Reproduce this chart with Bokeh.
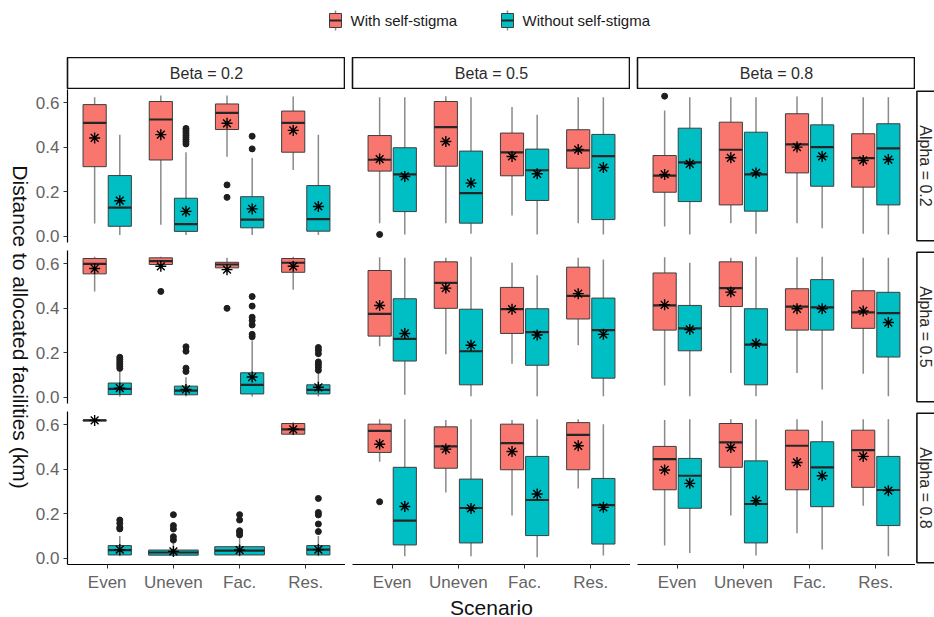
import math
from bokeh.plotting import figure
from bokeh.layouts import column, row
from bokeh.models import Range1d, FixedTicker, NumeralTickFormatter, Spacer
from bokeh.embed import file_html
from bokeh.resources import INLINE
from bokeh.core.properties import value

scenarios = ["Even", "Uneven", "Fac.", "Res."]
beta_levels = ["0.2", "0.5", "0.8"]
alpha_levels = ["0.2", "0.5", "0.8"]
group_names = ["With self-stigma", "Without self-stigma"]
group_colors = ["#F8766D", "#00BFC4"]
y_title = "Distance to allocated facilities (km)"
x_title = "Scenario"

# Box statistics: one row per facet (alpha rows, beta columns, row-major),
# one value per scenario. None = no observations for that group.
with_low = [
    [0.058, 0.052, 0.358, 0.298],
    [0.059, 0.059, 0.093, 0.059],
    [0.044, 0.059, 0.059, 0.011],
    [0.476, 0.585, 0.560, 0.484],
    [0.230, 0.193, 0.151, 0.234],
    [0.053, 0.109, 0.109, 0.106],
    [0.620, None, None, 0.555],
    [0.434, 0.296, 0.192, 0.314],
    [0.057, 0.192, 0.112, 0.236],
]
with_q1 = [
    [0.313, 0.343, 0.480, 0.378],
    [0.293, 0.315, 0.272, 0.306],
    [0.198, 0.141, 0.285, 0.221],
    [0.555, 0.597, 0.582, 0.562],
    [0.275, 0.400, 0.287, 0.352],
    [0.302, 0.408, 0.302, 0.310],
    [0.618, None, None, 0.558],
    [0.476, 0.405, 0.398, 0.398],
    [0.308, 0.409, 0.308, 0.319],
]
with_med = [
    [0.510, 0.525, 0.555, 0.510],
    [0.344, 0.491, 0.377, 0.386],
    [0.273, 0.389, 0.413, 0.351],
    [0.600, 0.612, 0.597, 0.605],
    [0.375, 0.514, 0.396, 0.456],
    [0.413, 0.491, 0.408, 0.382],
    [0.620, None, None, 0.580],
    [0.573, 0.503, 0.518, 0.555],
    [0.446, 0.521, 0.506, 0.486],
]
with_q3 = [
    [0.592, 0.606, 0.595, 0.563],
    [0.453, 0.606, 0.464, 0.479],
    [0.363, 0.513, 0.551, 0.461],
    [0.624, 0.627, 0.607, 0.624],
    [0.570, 0.609, 0.494, 0.585],
    [0.559, 0.609, 0.488, 0.479],
    [0.622, None, None, 0.606],
    [0.603, 0.591, 0.603, 0.610],
    [0.503, 0.606, 0.576, 0.576],
]
with_high = [
    [0.625, 0.633, 0.633, 0.628],
    [0.625, 0.630, 0.581, 0.625],
    [0.566, 0.625, 0.628, 0.625],
    [0.632, 0.632, 0.627, 0.632],
    [0.630, 0.627, 0.605, 0.627],
    [0.630, 0.627, 0.630, 0.627],
    [0.620, None, None, 0.612],
    [0.625, 0.622, 0.622, 0.625],
    [0.622, 0.625, 0.625, 0.625],
]
with_mean = [
    [0.442, 0.457, 0.508, 0.476],
    [0.347, 0.426, 0.359, 0.390],
    [0.278, 0.353, 0.401, 0.341],
    [0.579, 0.589, 0.574, 0.589],
    [0.413, 0.491, 0.396, 0.466],
    [0.416, 0.473, 0.398, 0.388],
    [0.620, None, None, 0.580],
    [0.513, 0.491, 0.480, 0.506],
    [0.397, 0.498, 0.431, 0.458],
]

without_low = [
    [0.006, 0.006, 0.006, 0.006],
    [0.008, 0.011, 0.008, 0.008],
    [0.008, 0.011, 0.036, 0.008],
    [0.003, 0.003, 0.003, 0.003],
    [0.011, 0.005, 0.005, 0.005],
    [0.005, 0.005, 0.035, 0.005],
    [0.009, 0.010, 0.009, 0.009],
    [0.009, 0.009, 0.005, 0.012],
    [0.024, 0.012, 0.039, 0.009],
]
without_q1 = [
    [0.045, 0.022, 0.038, 0.023],
    [0.111, 0.059, 0.161, 0.075],
    [0.156, 0.113, 0.225, 0.141],
    [0.012, 0.011, 0.015, 0.015],
    [0.163, 0.056, 0.144, 0.086],
    [0.209, 0.056, 0.302, 0.181],
    [0.015, 0.014, 0.015, 0.015],
    [0.060, 0.069, 0.102, 0.064],
    [0.225, 0.069, 0.232, 0.147],
]
without_med = [
    [0.129, 0.055, 0.075, 0.077],
    [0.278, 0.194, 0.297, 0.360],
    [0.332, 0.278, 0.401, 0.395],
    [0.038, 0.030, 0.056, 0.033],
    [0.263, 0.207, 0.293, 0.302],
    [0.310, 0.237, 0.404, 0.378],
    [0.037, 0.026, 0.034, 0.039],
    [0.169, 0.226, 0.262, 0.239],
    [0.371, 0.244, 0.409, 0.307],
]
without_q3 = [
    [0.273, 0.171, 0.178, 0.228],
    [0.398, 0.383, 0.392, 0.458],
    [0.486, 0.468, 0.501, 0.506],
    [0.064, 0.050, 0.110, 0.056],
    [0.443, 0.396, 0.398, 0.446],
    [0.413, 0.398, 0.529, 0.472],
    [0.057, 0.037, 0.052, 0.057],
    [0.409, 0.356, 0.458, 0.359],
    [0.449, 0.438, 0.524, 0.458],
]
without_high = [
    [0.456, 0.378, 0.352, 0.456],
    [0.625, 0.625, 0.546, 0.625],
    [0.625, 0.625, 0.625, 0.625],
    [0.118, 0.090, 0.255, 0.110],
    [0.627, 0.632, 0.549, 0.620],
    [0.605, 0.632, 0.632, 0.627],
    [0.100, 0.070, 0.090, 0.100],
    [0.625, 0.625, 0.625, 0.603],
    [0.625, 0.625, 0.618, 0.625],
]
without_mean = [
    [0.160, 0.112, 0.123, 0.134],
    [0.269, 0.239, 0.281, 0.309],
    [0.326, 0.285, 0.359, 0.345],
    [0.041, 0.035, 0.091, 0.045],
    [0.287, 0.234, 0.280, 0.283],
    [0.305, 0.242, 0.398, 0.336],
    [0.039, 0.031, 0.037, 0.039],
    [0.233, 0.224, 0.289, 0.229],
    [0.337, 0.259, 0.371, 0.304],
]

# Outlying observations: (facet index, scenario index, values)
with_outliers = [
    (0, 2, [0.231, 0.175]),
    (1, 0, [0.008]),
    (2, 0, [0.630]),
    (3, 1, [0.476]),
    (3, 2, [0.400]),
    (7, 0, [0.254]),
]
without_outliers = [
    (0, 1, [0.415, 0.425, 0.435, 0.445, 0.455, 0.465, 0.475, 0.485]),
    (0, 2, [0.393, 0.450]),
    (3, 0, [0.130, 0.140, 0.150, 0.160, 0.170, 0.180]),
    (3, 1, [0.116, 0.131, 0.207, 0.227]),
    (3, 2, [0.272, 0.283, 0.325, 0.345, 0.360, 0.410, 0.453]),
    (3, 3, [0.121, 0.136, 0.148, 0.159, 0.196, 0.212, 0.224]),
    (6, 0, [0.132, 0.139, 0.157, 0.172]),
    (6, 1, [0.082, 0.097, 0.132, 0.147, 0.196]),
    (6, 2, [0.105, 0.117, 0.124, 0.172, 0.196]),
    (6, 3, [0.120, 0.154, 0.195, 0.206, 0.269]),
]

group_stats = [
    (with_low, with_q1, with_med, with_q3, with_high, with_mean, with_outliers),
    (without_low, without_q1, without_med, without_q3, without_high, without_mean, without_outliers),
]

FONT = "Liberation Sans"
FRAME_W, FRAME_H = 278, 153
COL_GAP, ROW_GAP = 7, 8
TITLE_W = 32
LEFT_MARGIN, BOTTOM_MARGIN = 67 - TITLE_W, 53
STRIP_W, STRIP_H, LEGEND_H = 19, 32, 57
TOTAL_W = 934
BODY_H = STRIP_H + 3 * FRAME_H + 2 * ROW_GAP + BOTTOM_MARGIN

DODGE = 0.19
BOX_W = 0.35
FULL_W = 0.75
WHISKER = "#8a8a8a"
OUTLINE = "#3d3d3d"


def left_border(j):
    return LEFT_MARGIN if j == 0 else COL_GAP


def bottom_border(i):
    return BOTTOM_MARGIN if i == 2 else ROW_GAP


def bare(p):
    p.outline_line_color = None
    p.grid.grid_line_color = None
    p.background_fill_color = "white"
    p.border_fill_color = "white"
    p.min_border_top = 0
    p.min_border_right = 0


def style_axis(ax):
    ax.axis_line_color = "black"
    ax.axis_line_width = 1.2
    ax.major_tick_line_color = "#333333"
    ax.major_tick_line_width = 1
    ax.major_tick_out = 4
    ax.major_tick_in = 0
    ax.minor_tick_line_color = None
    ax.major_label_text_font = FONT
    ax.major_label_text_font_size = "17px"
    ax.major_label_text_color = "#646464"
    ax.major_label_standoff = 4
    ax.axis_label_text_font = FONT
    ax.axis_label_text_font_size = "21px"
    ax.axis_label_text_font_style = "normal"
    ax.axis_label_text_color = "#111111"
    ax.axis_label_standoff = 1


def make_panel(i, j):
    k = i * 3 + j
    p = figure(frame_width=FRAME_W, frame_height=FRAME_H,
               x_range=Range1d(0.4, 4.6), y_range=Range1d(-0.028, 0.66),
               output_backend="svg", toolbar_location=None, title=None,
               x_axis_location="below" if i == 2 else None,
               y_axis_location="left" if j == 0 else None)
    bare(p)
    p.min_border_left = left_border(j)
    p.min_border_bottom = bottom_border(i)

    for g, (lo, q1, md, q3, hi, mn, outl) in enumerate(group_stats):
        other = group_stats[1 - g]
        xs, ws, lows, q1s, meds, q3s, highs, means = [], [], [], [], [], [], [], []
        for s in range(len(scenarios)):
            if lo[k][s] is None:
                continue
            if other[0][k][s] is None:
                x, w = s + 1, FULL_W
            else:
                x, w = s + 1 + (DODGE if g == 1 else -DODGE), BOX_W
            xs.append(x); ws.append(w)
            lows.append(lo[k][s]); q1s.append(q1[k][s]); meds.append(md[k][s])
            q3s.append(q3[k][s]); highs.append(hi[k][s]); means.append(mn[k][s])

        p.segment(x0=xs, y0=lows, x1=xs, y1=highs, line_color=WHISKER, line_width=1.5)
        p.vbar(x=xs, width=ws, bottom=q1s, top=q3s, fill_color=group_colors[g],
               line_color=OUTLINE, line_width=1)
        p.segment(x0=[x - w / 2 for x, w in zip(xs, ws)], y0=meds,
                  x1=[x + w / 2 for x, w in zip(xs, ws)], y1=meds,
                  line_color="#262626", line_width=2.2)
        p.scatter(x=xs, y=means, marker="asterisk", size=11,
                  line_color="black", line_width=1.4)

        ox, oy = [], []
        for (fk, s, vals) in outl:
            if fk != k:
                continue
            if other[0][k][s] is None:
                x = s + 1
            else:
                x = s + 1 + (DODGE if g == 1 else -DODGE)
            ox.extend([x] * len(vals)); oy.extend(vals)
        if ox:
            p.scatter(x=ox, y=oy, marker="circle", size=6,
                      fill_color="#1e1e1e", line_color="#1e1e1e")

    if i == 2:
        ax = p.xaxis[0]
        style_axis(ax)
        ax.ticker = FixedTicker(ticks=list(range(1, len(scenarios) + 1)))
        ax.major_label_overrides = {s + 1: name for s, name in enumerate(scenarios)}
        if j == 1:
            ax.axis_label = x_title
    if j == 0:
        ay = p.yaxis[0]
        style_axis(ay)
        ay.ticker = FixedTicker(ticks=[0.0, 0.2, 0.4, 0.6])
        ay.formatter = NumeralTickFormatter(format="0.0")
    return p


def top_strip(j):
    p = figure(frame_width=FRAME_W, frame_height=STRIP_H,
               x_range=Range1d(0, 1), y_range=Range1d(0, 1),
               output_backend="svg", toolbar_location=None, title=None,
               x_axis_location=None, y_axis_location=None)
    bare(p)
    p.min_border_left = left_border(j)
    p.min_border_bottom = 0
    p.outline_line_color = "#111111"
    p.outline_line_width = 1.6
    p.text(x=[0.5], y=[0.5], text=["Beta = " + beta_levels[j]],
           text_font=value(FONT), text_font_size="16px", text_color="#2b2b2b",
           text_align="center", text_baseline="middle")
    return p


def side_strip(i):
    p = figure(frame_width=STRIP_W, frame_height=FRAME_H,
               x_range=Range1d(-0.08, 1), y_range=Range1d(-0.012, 1.012),
               output_backend="svg", toolbar_location=None, title=None,
               x_axis_location=None, y_axis_location=None)
    bare(p)
    p.min_border_left = 0
    p.min_border_bottom = bottom_border(i)
    p.quad(left=[0], right=[2], bottom=[0], top=[1], fill_color="white",
           line_color="#111111", line_width=1.6)
    p.text(x=[0.5], y=[0.5], text=["Alpha = " + alpha_levels[i]], angle=-math.pi / 2,
           text_font=value(FONT), text_font_size="16px", text_color="#2b2b2b",
           text_align="center", text_baseline="middle")
    return p


def y_title_bar():
    # Shared y-axis title, centred on the middle row of panels
    p = figure(width=TITLE_W, height=BODY_H,
               x_range=Range1d(0, TITLE_W), y_range=Range1d(BODY_H, 0),
               output_backend="svg", toolbar_location=None, title=None,
               x_axis_location=None, y_axis_location=None)
    bare(p)
    p.min_border_left = 0
    p.min_border_bottom = 0
    mid = STRIP_H + FRAME_H + ROW_GAP + FRAME_H / 2
    p.text(x=[20], y=[mid], text=[y_title], angle=-math.pi / 2,
           text_font=value(FONT), text_font_size="21px", text_color="#111111",
           text_align="center", text_baseline="middle")
    return p


def legend_bar():
    p = figure(width=TOTAL_W, height=LEGEND_H,
               x_range=Range1d(0, TOTAL_W), y_range=Range1d(LEGEND_H, 0),
               output_backend="svg", toolbar_location=None, title=None,
               x_axis_location=None, y_axis_location=None)
    bare(p)
    p.min_border_left = 0
    p.min_border_bottom = 0
    key_x = [335, 507]
    cy = 20
    p.segment(x0=key_x, y0=[cy - 10] * 2, x1=key_x, y1=[cy + 10] * 2,
              line_color=WHISKER, line_width=1.5)
    p.quad(left=[x - 6 for x in key_x], right=[x + 6 for x in key_x],
           top=[cy - 7] * 2, bottom=[cy + 7] * 2, fill_color=group_colors,
           line_color=OUTLINE, line_width=1)
    p.segment(x0=[x - 6 for x in key_x], y0=[cy] * 2, x1=[x + 6 for x in key_x],
              y1=[cy] * 2, line_color="#262626", line_width=2)
    p.text(x=[x + 15 for x in key_x], y=[cy] * 2, text=group_names,
           text_font=value(FONT), text_font_size="15px", text_color="#1a1a1a",
           text_align="left", text_baseline="middle")
    return p


strips = row([top_strip(j) for j in range(3)] + [Spacer(width=STRIP_W, height=STRIP_H)])
panel_rows = [row([make_panel(i, j) for j in range(3)] + [side_strip(i)]) for i in range(3)]
body = row([y_title_bar(), column([strips] + panel_rows)])
layout = column([legend_bar(), body])

open("out.html", "w").write(file_html(layout, INLINE))
